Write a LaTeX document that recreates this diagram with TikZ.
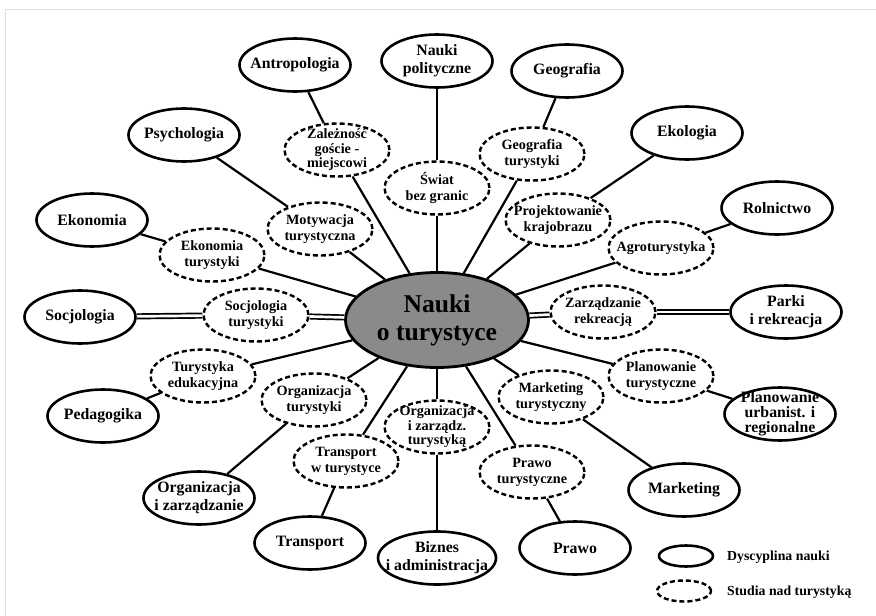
\documentclass[tikz,border=0pt]{standalone}
\usepackage{fontspec}
\setmainfont{Liberation Serif}
\usetikzlibrary{shapes}
\definecolor{naukigray}{RGB}{138,138,138}
\definecolor{ramka}{RGB}{226,226,226}

\begin{document}
\begin{tikzpicture}[x=1pt,y=-1pt,
  dysc/.style={shape=ellipse,draw,line width=2.6pt,fill=white,minimum width=111pt,minimum height=53pt,inner sep=0,label={[dtxt]center:#1}},
  stud/.style={shape=ellipse,draw,line width=2.4pt,dash pattern=on 5pt off 3pt,fill=white,minimum width=105pt,minimum height=53pt,inner sep=0,label={[stxt]center:#1}},
  dtxt/.style={align=center,inner sep=0,font=\fontsize{15.8}{18}\selectfont\bfseries},
  stxt/.style={align=center,inner sep=0,font=\fontsize{14.2}{16}\selectfont\bfseries},
  legtxt/.style={anchor=west,inner sep=0,font=\fontsize{13.8}{16}\selectfont\bfseries},
  conn/.style={line width=2.2pt},
  dbl/.style={double,double distance=2.7pt,line width=1.7pt}]
\useasboundingbox (0,0) rectangle (876,616);
\draw[ramka,line width=0.8pt] (5.5,630) -- (5.5,9.5) -- (890,9.5);

% centrum
\node[shape=ellipse,draw,line width=2.8pt,fill=naukigray,minimum width=183pt,minimum height=95pt,inner sep=0,
  align=center,font=\fontsize{25.6}{28}\selectfont\bfseries] (nauki) at (437,320) {Nauki\\o turystyce};

% dyscypliny nauki
\node[dysc=Antropologia] (antro) at (295,65) {};
\node[dysc={Nauki\\polityczne}] (polit) at (437,61) {};
\node[dysc=Geografia] (geogr) at (567,71) {};
\node[dysc=Ekologia] (ekol) at (687,133) {};
\node[dysc=Rolnictwo] (roln) at (777,208) {};
\node[dysc={Parki\\i rekreacja}] (parki) at (786,312) {};
\node[dysc={Planowanie\\[-3pt]urbanist. i\\[-3pt]regionalne}] (planurb) at (780,414) {};
\node[dysc=Marketing] (market) at (684,490) {};
\node[dysc=Prawo] (prawo) at (575,548) {};
\node[dysc={Biznes\\i administracja},minimum width=118pt] (biznes) at (437,558) {};
\node[dysc=Transport] (transp) at (310,543) {};
\node[dysc={Organizacja\\i zarządzanie}] (orgzarz) at (199,498) {};
\node[dysc=Pedagogika] (pedag) at (103,416) {};
\node[dysc=Socjologia] (socjo) at (80,317) {};
\node[dysc=Ekonomia] (ekon) at (92,220) {};
\node[dysc=Psychologia] (psych) at (184,135) {};

% studia nad turystyka
\node[stud={Zależność\\[-1.5pt]goście -\\[-1.5pt]miejscowi}] (zalez) at (337,150) {};
\node[stud={Świat\\bez granic}] (swiat) at (437,188) {};
\node[stud={Geografia\\turystyki}] (geotur) at (532,154) {};
\node[stud={Projektowanie\\krajobrazu}] (projkr) at (558,220) {};
\node[stud=Agroturystyka] (agro) at (661,248) {};
\node[stud={Zarządzanie\\rekreacją}] (zarzrek) at (603,312) {};
\node[stud={Planowanie\\turystyczne}] (plantur) at (661,376) {};
\node[stud={Marketing\\turystyczny}] (markettur) at (551,397) {};
\node[stud={Prawo\\turystyczne}] (prawotur) at (532,472) {};
\node[stud={Organizacja\\[-1.5pt]i zarządz.\\[-1.5pt]turystyką}] (orgzarztur) at (437,427) {};
\node[stud={Transport\\w turystyce}] (transptur) at (346,461) {};
\node[stud={Organizacja\\turystyki}] (orgtur) at (314,400) {};
\node[stud={Turystyka\\edukacyjna}] (turedu) at (203,376) {};
\node[stud={Socjologia\\turystyki}] (soctur) at (256,315) {};
\node[stud={Ekonomia\\turystyki}] (ekontur) at (212,255) {};
\node[stud={Motywacja\\turystyczna}] (motyw) at (320,229) {};

\foreach \a/\b in {antro/zalez,zalez/nauki,polit/swiat,swiat/nauki,psych/motyw,motyw/nauki,
  ekon/ekontur,ekontur/nauki,geogr/geotur,geotur/nauki,ekol/projkr,projkr/nauki,roln/agro,agro/nauki,
  pedag/turedu,turedu/nauki,orgtur/nauki,orgtur/orgzarz,transptur/nauki,transptur/transp,
  orgzarztur/nauki,orgzarztur/biznes,markettur/nauki,markettur/market,plantur/nauki,plantur/planurb,
  prawotur/nauki,prawotur/prawo}
  \draw[conn] (\a) -- (\b);
\foreach \a/\b in {socjo/soctur,soctur/nauki,nauki/zarzrek,zarzrek/parki}
  \draw[dbl] (\a) -- (\b);

% legenda
\node[dysc={},minimum width=54pt,minimum height=21pt] (legdysc) at (686,556) {};
\node[legtxt] (legdysctxt) at (727,557) {Dyscyplina nauki};
\node[stud={},minimum width=54pt,minimum height=21pt] (legstud) at (684,591) {};
\node[legtxt] (legstudtxt) at (727,592) {Studia nad turystyką};
\end{tikzpicture}
\end{document}
